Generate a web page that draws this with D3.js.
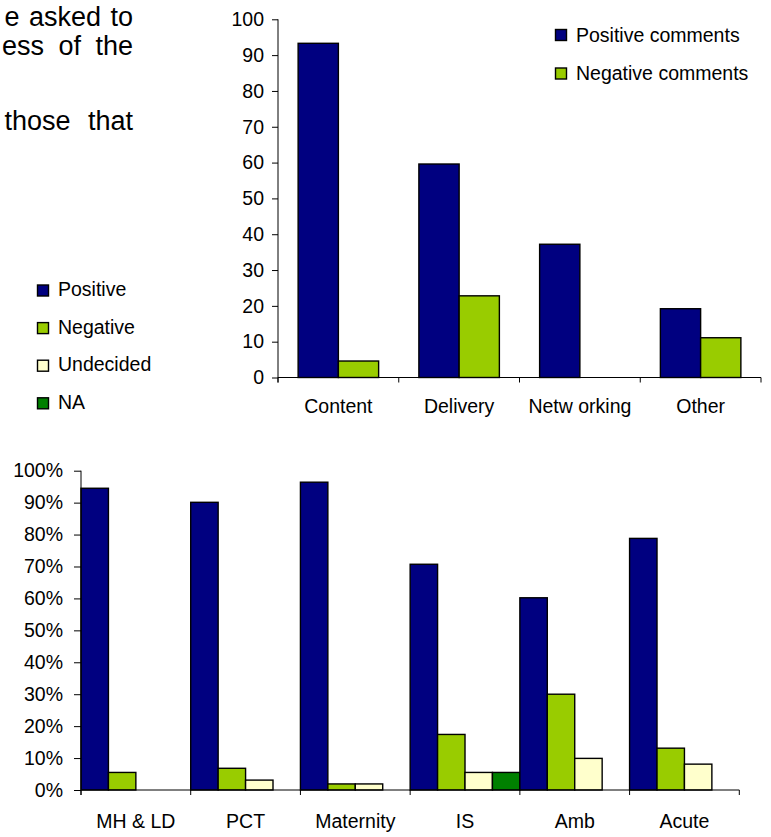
<!DOCTYPE html>
<html>
<head>
<meta charset="utf-8">
<script src="https://cdn.jsdelivr.net/npm/d3@7"></script>
<style>
  html, body { margin: 0; padding: 0; background: #fff; }
  svg { display: block; font-family: "Liberation Sans", Arial, sans-serif; }
</style>
</head>
<body>
<svg id="chart" width="771" height="837"></svg>
<script>
// ---- Data ----
const topCategories = ["Content", "Delivery", "Netw orking", "Other"];
const topSeries = ["Positive comments", "Negative comments"];
const topPositive = [93.3, 59.6, 37.2, 19.2];
const topNegative = [4.6, 22.8, 0, 11.1];
const topTicks = [0, 10, 20, 30, 40, 50, 60, 70, 80, 90, 100];

const botCategories = ["MH & LD", "PCT", "Maternity", "IS", "Amb", "Acute"];
const botSeries = ["Positive", "Negative", "Undecided", "NA"];
const botPositive = [94.5, 90.1, 96.4, 70.7, 60.2, 78.8];
const botNegative = [5.5, 6.8, 1.9, 17.4, 30.0, 13.1];
const botUndecided = [0, 3.1, 1.9, 5.5, 9.9, 8.1];
const botNA = [0, 0, 0, 5.5, 0, 0];
const botTicks = [0, 10, 20, 30, 40, 50, 60, 70, 80, 90, 100];

const paragraphLines = ["e asked to", "ess of the", "those that"];

const colors = {
  "Positive comments": "#000080", "Negative comments": "#99CC00",
  "Positive": "#000080", "Negative": "#99CC00", "Undecided": "#FFFFCC", "NA": "#008000"
};

const svg = d3.select("#chart");
const FONT = 19.5;
const FF = "Liberation Sans, Arial, sans-serif";

// ---- Paragraph fragment ----
const para = svg.append("g").attr("font-size", 27).attr("fill", "#000").attr("text-anchor", "end");
const paraY = [25.5, 55, 130];
const paraWS = [2, 7, 10];
paragraphLines.forEach((t, i) => {
  para.append("text").attr("x", 133).attr("y", paraY[i]).attr("word-spacing", paraWS[i]).text(t);
});

// ---- Top chart ----
(function () {
  const L = 278, R = 761, T = 19.3, B = 377.5;
  const x0 = d3.scaleBand().domain(topCategories).range([L, R]).padding(0);
  const x1 = d3.scaleBand().domain(topSeries).range([0, x0.bandwidth()]).paddingInner(0).paddingOuter(0.5);
  const y = d3.scaleLinear().domain([0, 100]).range([B, T]);
  const rows = topCategories.map((c, i) => ({ cat: c, vals: [topPositive[i], topNegative[i]] }));

  const g = svg.append("g");
  const cg = g.selectAll("g.cat").data(rows).join("g").attr("transform", d => `translate(${x0(d.cat)},0)`);
  cg.selectAll("rect").data(d => d.vals.map((v, j) => ({ s: topSeries[j], v })).filter(e => e.v > 0))
    .join("rect")
    .attr("x", d => x1(d.s)).attr("width", x1.bandwidth())
    .attr("y", d => y(d.v)).attr("height", d => y(0) - y(d.v))
    .attr("fill", d => colors[d.s]).attr("stroke", "#000").attr("stroke-width", 1.4);

  const ya = g.append("g").attr("transform", `translate(${L},0)`)
    .call(d3.axisLeft(y).tickValues(topTicks).tickSize(6).tickPadding(8).tickFormat(d3.format("d")));
  ya.select(".domain").attr("d", `M0,${B + 5}V${T}`);
  ya.selectAll("text").attr("font-size", FONT).attr("font-family", FF).attr("fill", "#000");

  const xa = g.append("g").attr("transform", `translate(0,${B})`)
    .call(d3.axisBottom(x0).tickSize(0).tickPadding(22));
  xa.select(".domain").attr("d", `M${L},0H${R}`);
  xa.selectAll("text").attr("font-size", FONT).attr("font-family", FF).attr("fill", "#000");
  const bounds = topCategories.map(c => x0(c)).concat([R]);
  g.append("g").selectAll("line").data(bounds).join("line")
    .attr("x1", d => d).attr("x2", d => d).attr("y1", B).attr("y2", B + 5).attr("stroke", "#000");

  // legend
  const lg = g.append("g").attr("transform", "translate(555,29)");
  const li = lg.selectAll("g").data(topSeries).join("g").attr("transform", (d, i) => `translate(0,${i * 38.5})`);
  li.append("rect").attr("x", 0.5).attr("y", 0.5).attr("width", 11).attr("height", 11)
    .attr("fill", d => colors[d]).attr("stroke", "#000").attr("stroke-width", 1.4);
  li.append("text").attr("x", 21).attr("y", 12.7).attr("font-size", FONT).text(d => d);
})();

// ---- Left legend (bottom chart) ----
(function () {
  const lg = svg.append("g").attr("transform", "translate(37,284.5)");
  const li = lg.selectAll("g").data(botSeries).join("g").attr("transform", (d, i) => `translate(0,${i * 37.6})`);
  li.append("rect").attr("x", 0.5).attr("y", 0.5).attr("width", 11).attr("height", 11)
    .attr("fill", d => colors[d]).attr("stroke", "#000").attr("stroke-width", 1.4);
  li.append("text").attr("x", 21).attr("y", 11.7).attr("font-size", FONT).text(d => d);
})();

// ---- Bottom chart ----
(function () {
  const L = 81, R = 739.3, T = 470.7, B = 790;
  const x0 = d3.scaleBand().domain(botCategories).range([L, R]).padding(0);
  const x1 = d3.scaleBand().domain(botSeries).range([0, x0.bandwidth()]).padding(0);
  const y = d3.scaleLinear().domain([0, 100]).range([B, T]);
  const rows = botCategories.map((c, i) => ({ cat: c, vals: [botPositive[i], botNegative[i], botUndecided[i], botNA[i]] }));

  const g = svg.append("g");
  const cg = g.selectAll("g.cat").data(rows).join("g").attr("transform", d => `translate(${x0(d.cat)},0)`);
  cg.selectAll("rect").data(d => d.vals.map((v, j) => ({ s: botSeries[j], v })).filter(e => e.v > 0))
    .join("rect")
    .attr("x", d => x1(d.s)).attr("width", x1.bandwidth())
    .attr("y", d => y(d.v)).attr("height", d => y(0) - y(d.v))
    .attr("fill", d => colors[d.s]).attr("stroke", "#000").attr("stroke-width", 1.4);

  const ya = g.append("g").attr("transform", `translate(${L},0)`)
    .call(d3.axisLeft(y).tickValues(botTicks).tickSize(7).tickPadding(11).tickFormat(d => d + "%"));
  ya.select(".domain").attr("d", `M0,${B + 5}V${T}`);
  ya.selectAll("text").attr("font-size", FONT).attr("font-family", FF).attr("fill", "#000");

  const xa = g.append("g").attr("transform", `translate(0,${B})`)
    .call(d3.axisBottom(x0).tickSize(0).tickPadding(24));
  xa.select(".domain").attr("d", `M${L},0H${R}`);
  xa.selectAll("text").attr("font-size", FONT).attr("font-family", FF).attr("fill", "#000");
  const bounds = botCategories.map(c => x0(c)).concat([R]);
  g.append("g").selectAll("line").data(bounds).join("line")
    .attr("x1", d => d).attr("x2", d => d).attr("y1", B).attr("y2", B + 5).attr("stroke", "#000");
})();
</script>
</body>
</html>
